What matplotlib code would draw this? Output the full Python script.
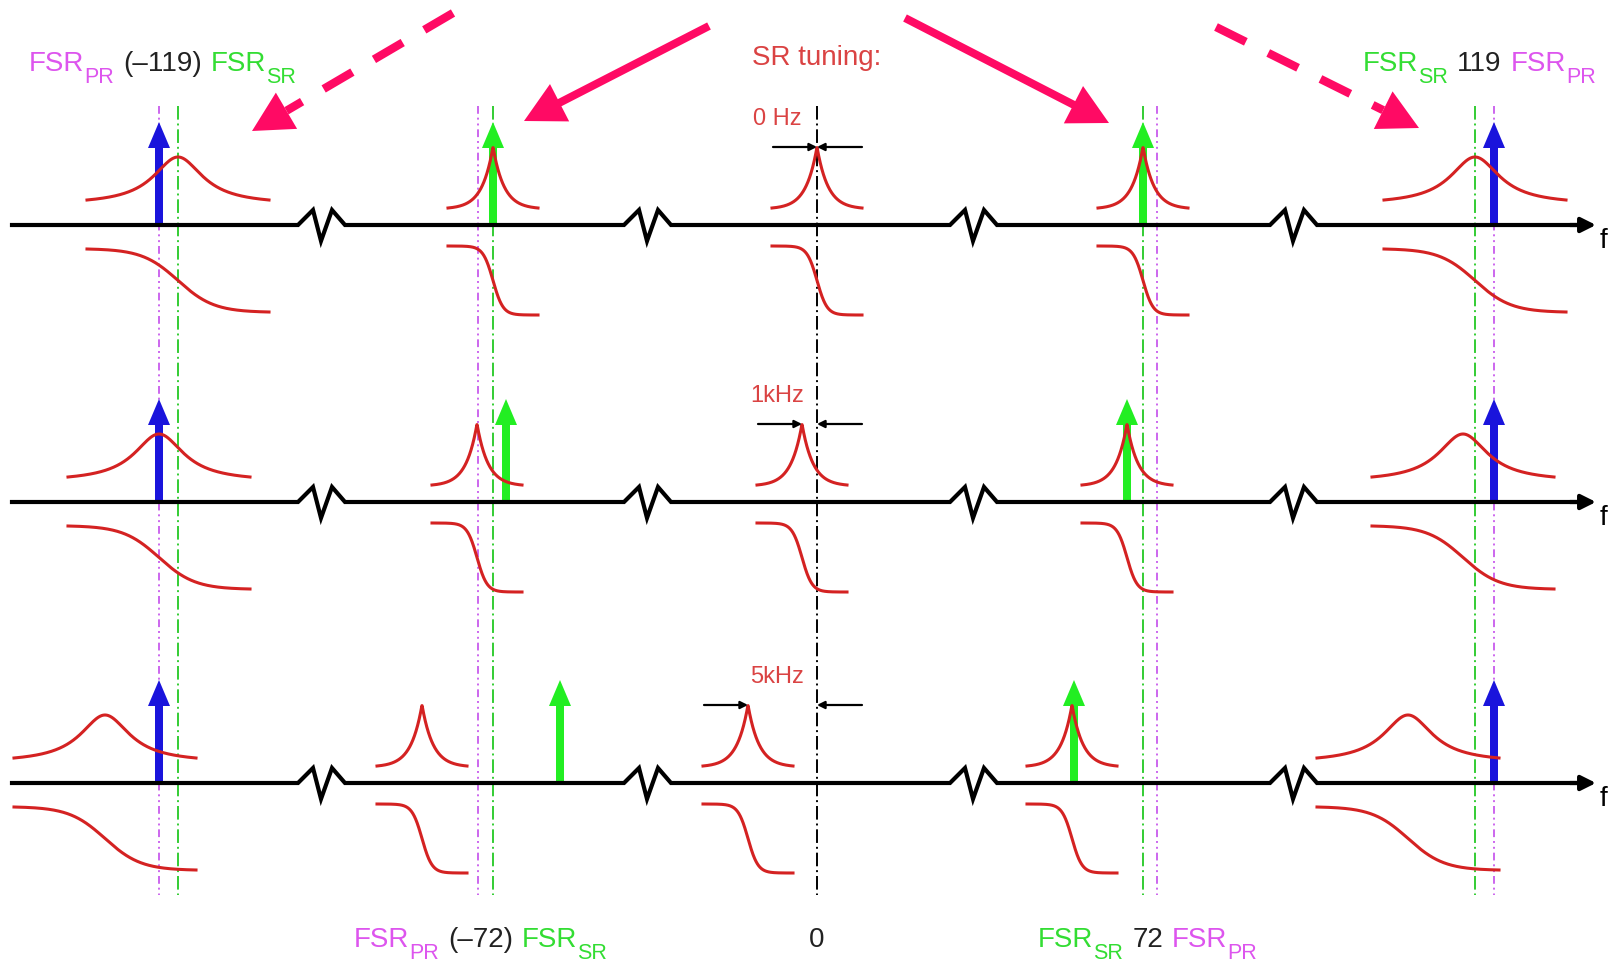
import numpy as np
import matplotlib.pyplot as plt

plt.rcParams['font.family'] = ['Liberation Sans', 'DejaVu Sans']

# frequency positions along the drawing (order: -119, -72, 0, 72, 119 FSR)
center_x = 817
pr_lines = [159, 478, 1157, 1494]
sr_lines = [178, 493, 1143, 1475]
break_x = [321, 647, 973, 1293]

tuning_labels = ['0 Hz', '1kHz', '5kHz']
# SR resonance peak position for each row
peaks = [
    [178, 493, 817, 1143, 1475],
    [159, 477, 802, 1127, 1463],
    [105, 422, 748, 1072, 1408],
]
wide = [True, False, False, False, True]
blue_carrier = [159, 1494]
green_sidebands = [
    [493, 1143],
    [506, 1127],
    [560, 1074],
]

# layout
row_y = [225, 502, 783]
red = '#d42222'
pink = '#ff0a64'
mag = '#cc66ee'
grn = '#33cc33'
txt_mag = '#dd55ee'
txt_grn = '#33dd33'

fig = plt.figure(figsize=(16.12, 9.68), dpi=100)
ax = fig.add_axes([0, 0, 1, 1])
ax.set_xlim(0, 1612)
ax.set_ylim(968, 0)
ax.axis('off')


def resonance(x0, y0, is_wide):
    if is_wide:
        span, g_amp, g_ph = 91, 30, 36
        base, top, lo, hi = 25, 68, 24, 87
    else:
        span, g_amp, g_ph = 45, 11, 10
        base, top, lo, hi = 17, 78, 21, 90
    u = np.linspace(-span, span, 400)
    if is_wide:
        lor = g_amp**2 / (u**2 + g_amp**2)
        e = g_amp**2 / (span**2 + g_amp**2)
    else:
        lor = np.exp(-np.abs(u) / g_amp)
        e = np.exp(-span / g_amp)
    lor = (lor - e) / (1 - e)
    ax.plot(x0 + u, y0 - base - (top - base) * lor, color=red, lw=2.2, zorder=3)
    ph = np.tanh(u / g_ph) / np.tanh(span / g_ph)
    ax.plot(x0 + u, y0 + (lo + hi) / 2 + (hi - lo) / 2 * ph, color=red, lw=2.2, zorder=3)


def up_arrow(x, y0, color):
    ax.arrow(x, y0, 0, -103, width=8, head_width=22, head_length=26,
             length_includes_head=True, color=color, lw=0, zorder=2)


# vertical reference lines
for x in pr_lines:
    ax.plot([x, x], [106, 895], color=mag, lw=1.4, dashes=[4, 2, 1, 2, 1, 2], zorder=1)
for x in sr_lines:
    ax.plot([x, x], [106, 895], color=grn, lw=1.4, dashes=[7, 2, 1, 2], zorder=1)
ax.plot([center_x, center_x], [106, 895], color='black', lw=1.4, dashes=[7, 2, 1, 2], zorder=1)

for r, y0 in enumerate(row_y):
    # frequency axis with breaks
    xs, ys = [12], [y0]
    for c in break_x:
        for dx, dy in zip([-23, -8, 0, 11, 24], [0, -15, 16, -15, 0]):
            xs.append(c + dx)
            ys.append(y0 + dy)
    xs.append(1580)
    ys.append(y0)
    ax.plot(xs, ys, color='black', lw=3, zorder=4, solid_joinstyle='miter')
    ax.annotate('', xy=(1596, y0), xytext=(1570, y0),
                arrowprops=dict(arrowstyle='-|>', mutation_scale=22, lw=3,
                                color='black', shrinkA=0, shrinkB=0), zorder=4)
    ax.text(1604, y0 + 16, 'f', ha='center', va='center', fontsize=20)

    for x0, w in zip(peaks[r], wide):
        resonance(x0, y0, w)
    for x in blue_carrier:
        up_arrow(x, y0, '#1a14dc')
    for x in green_sidebands[r]:
        up_arrow(x, y0, '#22ee22')

    # detuning marker
    my = y0 - 78
    pk = peaks[r][2]
    ax.annotate('', xy=(pk, my), xytext=(pk - 44, my),
                arrowprops=dict(arrowstyle='-|>', mutation_scale=11, lw=1.6,
                                color='black', shrinkA=0, shrinkB=0))
    ax.annotate('', xy=(center_x, my), xytext=(center_x + 45, my),
                arrowprops=dict(arrowstyle='-|>', mutation_scale=11, lw=1.6,
                                color='black', shrinkA=0, shrinkB=0))
    ax.text(777, y0 - 106, tuning_labels[r], color=red, fontsize=17,
            ha='center', va='center', alpha=0.85)

# pink pointer arrows
solid_arrows = [((709, 26), (524, 121)), ((905, 18), (1109, 123))]
dashed_arrows = [((453, 13), (252, 131)), ((1216, 27), (1419, 128))]
hl = 40
for (x1, y1), (x2, y2) in solid_arrows:
    ax.arrow(x1, y1, x2 - x1, y2 - y1, width=8, head_width=42, head_length=hl,
             length_includes_head=True, color=pink, lw=0, zorder=5)
for (x1, y1), (x2, y2) in dashed_arrows:
    d = np.array([x2 - x1, y2 - y1], dtype=float)
    n = d / np.hypot(*d)
    bx, by = x2 - n[0] * hl, y2 - n[1] * hl
    ax.plot([x1, bx], [y1, by], color=pink, lw=6, dashes=[4, 3],
            solid_capstyle='butt', dash_capstyle='butt', zorder=5)
    ax.arrow(bx, by, n[0] * hl, n[1] * hl, width=8, head_width=42, head_length=hl,
             length_includes_head=True, color=pink, lw=0, zorder=5)

ax.text(817, 58, 'SR tuning:', color=red, fontsize=20, ha='center', va='center', alpha=0.85)

# FSR labels built from pieces
renderer = fig.canvas.get_renderer()


def label(x0, yb, pieces):
    x = x0
    for s, col, sub, gap in pieces:
        x += gap
        t = ax.text(x, yb + (12 if sub else 0), s, color=col,
                    fontsize=15.5 if sub else 20, ha='left', va='baseline')
        x += t.get_window_extent(renderer).width


label(29, 71, [('FSR', txt_mag, False, 0), ('PR', txt_mag, True, 0),
               ('(\u2013119)', '#222222', False, 9), ('FSR', txt_grn, False, 9),
               ('SR', txt_grn, True, 0)])
label(1363, 71, [('FSR', txt_grn, False, 0), ('SR', txt_grn, True, 0),
                 ('119', '#222222', False, 9), ('FSR', txt_mag, False, 9),
                 ('PR', txt_mag, True, 0)])
label(354, 947, [('FSR', txt_mag, False, 0), ('PR', txt_mag, True, 0),
                 ('(\u201372)', '#222222', False, 9), ('FSR', txt_grn, False, 9),
                 ('SR', txt_grn, True, 0)])
label(1038, 947, [('FSR', txt_grn, False, 0), ('SR', txt_grn, True, 0),
                  ('72', '#222222', False, 9), ('FSR', txt_mag, False, 9),
                  ('PR', txt_mag, True, 0)])
ax.text(817, 947, '0', color='#222222', fontsize=20, ha='center', va='baseline')

fig.savefig('out.png', dpi=100)
